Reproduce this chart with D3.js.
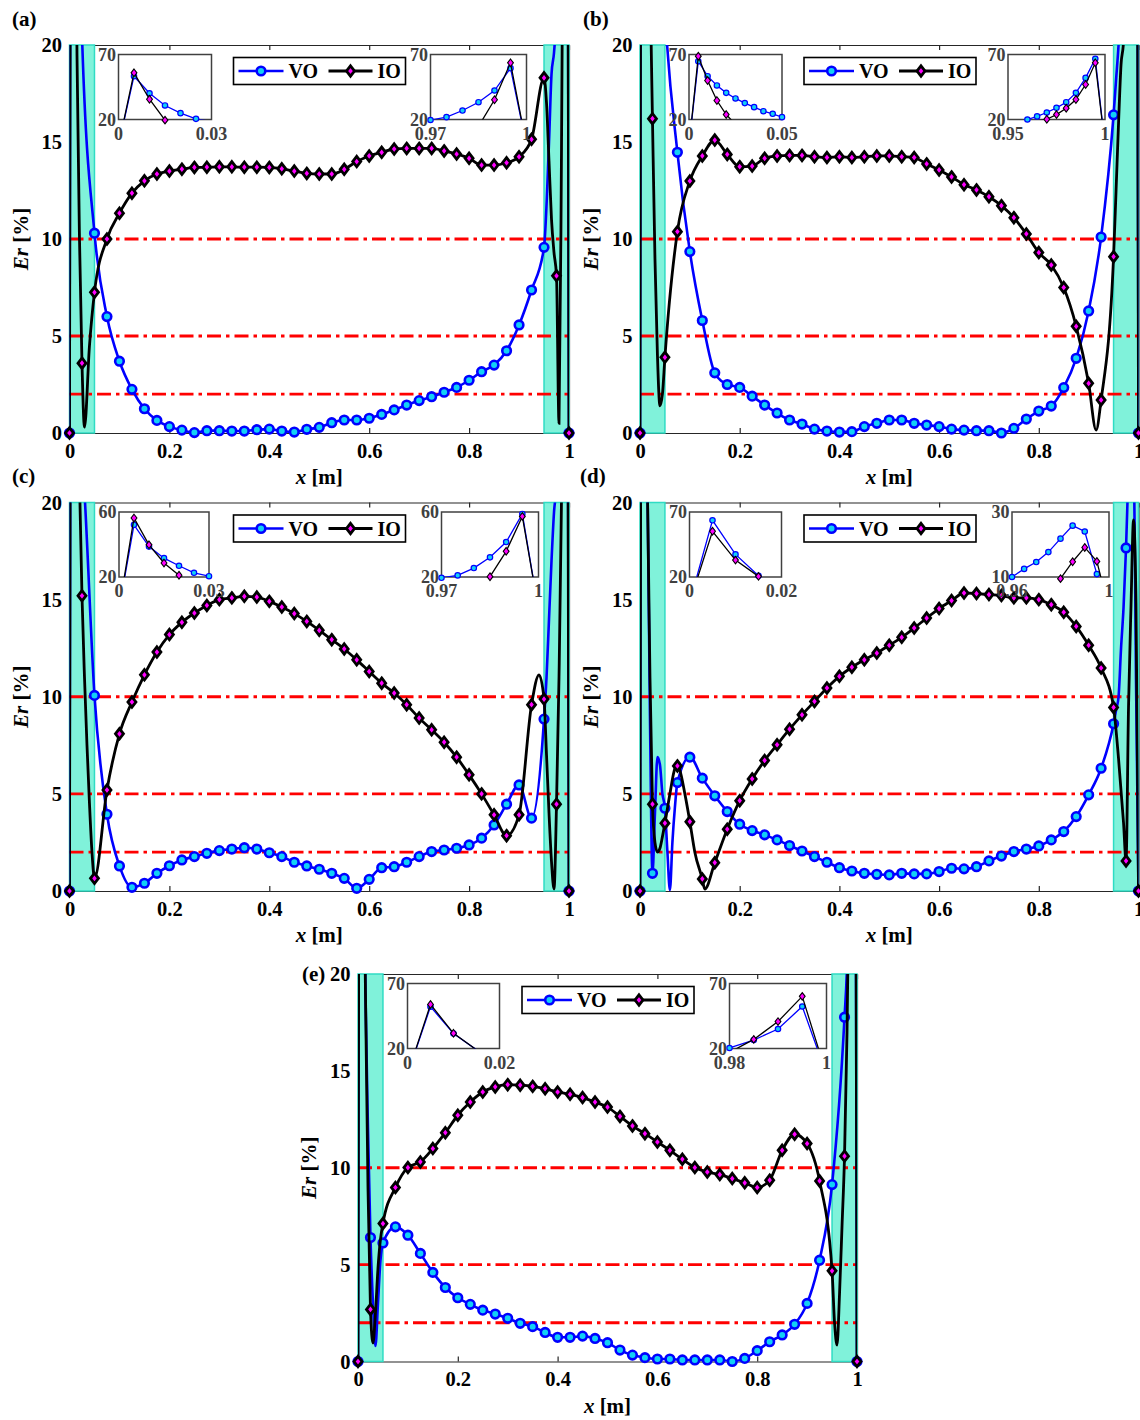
<!DOCTYPE html>
<html>
<head>
<meta charset="utf-8">
<script src="https://cdn.jsdelivr.net/npm/d3@7"></script>
<style>
  body { margin: 0; background: #fff; }
  text { font-family: "Liberation Serif", "DejaVu Serif", serif; font-weight: bold; }
</style>
</head>
<body>
<svg id="chart" width="1140" height="1420"></svg>
<script>
// x positions of the plotted markers [m]
const xGrid = [0, 0.025, 0.05, 0.075, 0.1, 0.125, 0.15, 0.175, 0.2, 0.225, 0.25, 0.275, 0.3, 0.325,
  0.35, 0.375, 0.4, 0.425, 0.45, 0.475, 0.5, 0.525, 0.55, 0.575, 0.6, 0.625, 0.65, 0.675, 0.7, 0.725,
  0.75, 0.775, 0.8, 0.825, 0.85, 0.875, 0.9, 0.925, 0.95, 0.975, 1];
const xTicks = [0, 0.2, 0.4, 0.6, 0.8, 1];
const yTicks = [0, 5, 10, 15, 20];
const limits = [2, 5, 10];          // red dash-dot lines, Er [%]
const shaded = [[0, 0.05], [0.95, 1]];

// (a)
const voA = [0, 20.5, 10.3, 6.0, 3.7, 2.25, 1.25, 0.65, 0.33, 0.15, 0.02, 0.12, 0.12, 0.1, 0.1, 0.17, 0.2,
  0.1, 0.05, 0.19, 0.29, 0.53, 0.67, 0.67, 0.76, 0.96, 1.19, 1.44, 1.67, 1.87, 2.1, 2.35, 2.72, 3.16,
  3.5, 4.24, 5.57, 7.37, 9.57, 21.8, 0];
const ioA = [0, 3.6, 7.25, 10.0, 11.33, 12.36, 13.0, 13.35, 13.5, 13.6, 13.69, 13.7, 13.72, 13.72, 13.7,
  13.7, 13.69, 13.62, 13.5, 13.38, 13.35, 13.35, 13.59, 13.99, 14.28, 14.47, 14.64, 14.67, 14.67,
  14.67, 14.54, 14.38, 14.16, 13.81, 13.81, 13.93, 14.24, 15.14, 18.31, 8.1, 0];
const voFineA = [[0.005, 53.3], [0.01, 40.2], [0.015, 30.8], [0.02, 24.9], [0.96, 15], [0.965, 18.5],
  [0.97, 19.6], [0.98, 26.9], [0.985, 33.3], [0.99, 42.3], [0.995, 59.5]];
const ioFineA = [[0.005, 55.9], [0.01, 35.6], [0.015, 19.5], [0.02, 10], [0.03, 0.3], [0.04, 4.5],
  [0.955, 17], [0.96, 14], [0.965, 11], [0.97, 9.3], [0.98, 0.5], [0.985, 14.7], [0.99, 35.2], [0.995, 63.6]];

// (b)
const voB = [0, 36.2, 21.8, 14.47, 9.35, 5.8, 3.1, 2.5, 2.35, 1.9, 1.44, 1.03, 0.67, 0.46, 0.2, 0.1, 0.05,
  0.07, 0.33, 0.5, 0.67, 0.67, 0.5, 0.41, 0.33, 0.2, 0.15, 0.12, 0.12, 0.0, 0.24, 0.72, 1.13, 1.39,
  2.34, 3.85, 6.29, 10.1, 16.4, 29, 0];
const ioB = [0, 16.2, 3.9, 10.38, 12.99, 14.28, 15.1, 14.36, 13.73, 13.76, 14.16, 14.28, 14.31, 14.31,
  14.24, 14.2, 14.24, 14.2, 14.24, 14.28, 14.28, 14.24, 14.2, 13.87, 13.56, 13.2, 12.8, 12.53, 12.18,
  11.72, 11.1, 10.26, 9.3, 8.66, 7.5, 5.5, 2.56, 1.7, 9.09, 23.8, 0];
const voFineB = [[0.005, 64.8], [0.01, 53.3], [0.015, 46.2], [0.02, 40.5], [0.03, 32.6], [0.035, 29.5],
  [0.04, 26.4], [0.045, 24.4], [0.955, 18.2], [0.96, 20], [0.965, 22.4], [0.97, 25.4], [0.98, 33.3],
  [0.985, 40.5], [0.99, 52], [0.995, 66.7]];
const ioFineB = [[0.005, 68.7], [0.01, 50], [0.015, 34.6], [0.02, 23.8], [0.03, 9], [0.035, 4],
  [0.04, 1.4], [0.045, 2], [0.915, 0.15], [0.955, 12.5], [0.96, 16], [0.965, 19], [0.97, 20.2],
  [0.98, 28.7], [0.985, 35.4], [0.99, 46.9], [0.995, 63.6]];

// (c)
const voC = [0, 22.6, 10.07, 3.95, 1.29, 0.19, 0.4, 0.91, 1.3, 1.6, 1.77, 1.94, 2.08, 2.16, 2.23, 2.16,
  1.97, 1.77, 1.48, 1.29, 1.12, 0.91, 0.65, 0.14, 0.6, 1.2, 1.25, 1.48, 1.77, 2.03, 2.11, 2.2, 2.37,
  2.72, 3.4, 4.47, 5.46, 3.75, 8.85, 21, 0];
const ioC = [0, 15.2, 0.65, 5.2, 8.09, 9.73, 11.13, 12.3, 13.2, 13.83, 14.31, 14.7, 15.0, 15.09, 15.17,
  15.13, 14.91, 14.62, 14.28, 13.88, 13.42, 12.94, 12.46, 11.9, 11.3, 10.7, 10.19, 9.59, 8.9, 8.3,
  7.66, 6.89, 5.98, 5.0, 3.92, 2.85, 3.92, 9.59, 9.88, 4.47, 0];
const voFineC = [[0.005, 52.1], [0.01, 38.7], [0.015, 31.6], [0.02, 26.9], [0.03, 20.5], [0.955, 11],
  [0.96, 14], [0.965, 17], [0.97, 19.5], [0.98, 25.5], [0.985, 32.1], [0.99, 41.5], [0.995, 58.8]];
const ioFineC = [[0.005, 56.3], [0.01, 39.8], [0.015, 28.6], [0.02, 21.1], [0.03, 11], [0.035, 7.5],
  [0.04, 4.5], [0.045, 2], [0.94, 11.13], [0.955, 7], [0.96, 4], [0.965, 1.5], [0.97, 0.1],
  [0.98, 11], [0.985, 20.2], [0.99, 35.8], [0.995, 57.3]];

// (d)
const voD = [0, 0.91, 4.26, 5.58, 6.89, 5.81, 4.9, 4.09, 3.44, 3.11, 2.89, 2.63, 2.34, 2.06, 1.77, 1.48,
  1.2, 1.03, 0.91, 0.86, 0.83, 0.91, 0.88, 0.88, 1.0, 1.17, 1.14, 1.25, 1.55, 1.8, 2.03, 2.16, 2.32,
  2.63, 3.06, 3.83, 4.95, 6.32, 8.61, 17.66, 0];
const ioD = [0, 4.47, 3.49, 6.44, 3.57, 0.62, 1.46, 3.18, 4.65, 5.77, 6.72, 7.53, 8.33, 9.07, 9.76,
  10.45, 11.05, 11.52, 11.9, 12.25, 12.65, 13.06, 13.54, 14.05, 14.54, 14.95, 15.34, 15.31, 15.26,
  15.21, 15.09, 15.09, 15.0, 14.74, 14.35, 13.62, 12.65, 11.48, 9.45, 1.55, 0];
const voFineD = [[0.005, 63.6], [0.01, 37.4], [0.015, 21], [0.02, 9], [0.03, 4.0], [0.035, 6.9],
  [0.04, 6.5], [0.045, 5.0], [0.055, 2.0], [0.06, 0.05], [0.065, 2.5], [0.07, 4.3], [0.955, 9.3],
  [0.96, 10], [0.965, 12.5], [0.97, 14.6], [0.98, 21.8], [0.985, 25.8], [0.99, 24], [0.995, 10.9]];
const ioFineD = [[0.005, 55.2], [0.01, 33], [0.015, 20.5], [0.02, 11], [0.03, 2.5], [0.035, 2.0],
  [0.04, 2.2], [0.045, 2.8], [0.06, 5.0], [0.07, 6.3], [0.08, 6.2], [0.09, 5], [0.11, 2], [0.13, 0.1],
  [0.96, 6.8], [0.97, 3.5], [0.98, 9.5], [0.985, 14.7], [0.99, 19.1], [0.995, 14.8]];

// (e)
const voE = [0, 6.4, 6.12, 6.95, 6.52, 5.58, 4.6, 3.82, 3.29, 2.95, 2.65, 2.45, 2.23, 1.97, 1.8, 1.5,
  1.25, 1.25, 1.31, 1.19, 0.97, 0.59, 0.33, 0.2, 0.13, 0.13, 0.08, 0.08, 0.08, 0.08, 0.0, 0.16, 0.56,
  1.02, 1.37, 1.92, 3.0, 5.23, 9.13, 17.77, 0];
const ioE = [0, 2.69, 7.12, 8.98, 10.01, 10.3, 10.99, 11.81, 12.71, 13.39, 13.91, 14.17, 14.29, 14.26,
  14.2, 14.08, 13.91, 13.79, 13.62, 13.39, 13.13, 12.65, 12.16, 11.76, 11.33, 10.9, 10.44, 10.01,
  9.78, 9.65, 9.44, 9.22, 8.98, 9.36, 10.9, 11.73, 11.25, 9.32, 4.68, 10.6, 0];
const voFineE = [[0.005, 52.2], [0.01, 31.5], [0.015, 19], [0.02, 12], [0.03, 3], [0.035, 0.8],
  [0.04, 3], [0.045, 5.2], [0.98, 20.4], [0.985, 26.5], [0.99, 35], [0.995, 52.3]];
const ioFineE = [[0.005, 53.9], [0.01, 31.7], [0.015, 19], [0.02, 9], [0.03, 0.95], [0.035, 2.5],
  [0.04, 4.8], [0.045, 6.3], [0.955, 2], [0.96, 0.85], [0.965, 3.5], [0.97, 7], [0.98, 17],
  [0.985, 27], [0.99, 40.7], [0.995, 60.1]];

// inset ranges: [xmin, xmax, ymin, ymax]
const insetA = [[0, 0.03, 20, 70], [0.97, 1, 20, 70]];
const insetB = [[0, 0.05, 20, 70], [0.95, 1, 20, 70]];
const insetC = [[0, 0.03, 20, 60], [0.97, 1, 20, 60]];
const insetD = [[0, 0.02, 20, 70], [0.96, 1, 10, 30]];
const insetE = [[0, 0.02, 20, 70], [0.98, 1, 20, 70]];

const panels = [
  {label: "(a)", vo: voA, io: ioA, voFine: voFineA, ioFine: ioFineA, insets: insetA,
   box: [69.5, 569, 45, 433], insetPos: [[49, 93], [361, 96]], labelPos: [12, 26]},
  {label: "(b)", vo: voB, io: ioB, voFine: voFineB, ioFine: ioFineB, insets: insetB,
   box: [640, 1138.5, 45, 433], insetPos: [[49, 93], [368, 97]], labelPos: [583, 26]},
  {label: "(c)", vo: voC, io: ioC, voFine: voFineC, ioFine: ioFineC, insets: insetC,
   box: [69.5, 569, 502.5, 891], insetPos: [[49.5, 90], [372, 97]], labelPos: [12, 483]},
  {label: "(d)", vo: voD, io: ioD, voFine: voFineD, ioFine: ioFineD, insets: insetD,
   box: [640, 1138.5, 502.5, 891], insetPos: [[49.5, 92], [372, 97]], labelPos: [580, 483]},
  {label: "(e)", vo: voE, io: ioE, voFine: voFineE, ioFine: ioFineE, insets: insetE,
   box: [358, 857, 974, 1361.5], insetPos: [[49.5, 92], [371.5, 97]], labelPos: [302, 981]}
];

const svg = d3.select("#chart");
const blue = "#0000ff", cyan = "#12d0f5", magenta = "#ff00ff";
const axisColor = "#262626";
let clipId = 0;

function diamond(h, w) { return `M0,${-h}L${w},0L0,${h}L${-w},0Z`; }

function mergePts(xs, ys, fine) {
  const pts = xs.map((x, i) => [x, ys[i]]).concat(fine);
  return pts.sort((a, b) => a[0] - b[0]);
}

function drawPanel(p) {
  const [left, right, top, bottom] = p.box;
  const g = svg.append("g");
  const x = d3.scaleLinear().domain([0, 1]).range([left, right]);
  const y = d3.scaleLinear().domain([0, 20]).range([bottom, top]);

  // axes box
  const styleAxis = sel => {
    sel.attr("font-family", null).attr("font-size", 20.5).attr("font-weight", "bold");
    sel.select(".domain").attr("stroke", axisColor).attr("stroke-width", 1.2);
    sel.selectAll(".tick line").attr("stroke", axisColor).attr("stroke-width", 1.2);
    sel.selectAll(".tick text").attr("fill", "#000");
  };
  g.append("g").attr("transform", `translate(0,${bottom})`)
    .call(d3.axisBottom(x).tickValues(xTicks).tickSize(-5).tickSizeOuter(0).tickPadding(10).tickFormat(d3.format("~g")))
    .call(styleAxis);
  g.append("g").attr("transform", `translate(0,${top})`)
    .call(d3.axisTop(x).tickValues(xTicks).tickSize(-5).tickSizeOuter(0).tickFormat(""))
    .call(styleAxis);
  g.append("g").attr("transform", `translate(${left},0)`)
    .call(d3.axisLeft(y).tickValues(yTicks).tickSize(-5).tickSizeOuter(0).tickPadding(7.5))
    .call(styleAxis);
  g.append("g").attr("transform", `translate(${right},0)`)
    .call(d3.axisRight(y).tickValues(yTicks).tickSize(-5).tickSizeOuter(0).tickFormat(""))
    .call(styleAxis);

  // shaded boundary zones
  g.selectAll(".zone").data(shaded).enter().append("rect")
    .attr("x", d => x(d[0])).attr("y", top)
    .attr("width", d => x(d[1]) - x(d[0])).attr("height", bottom - top)
    .attr("fill", "#80f2da").attr("stroke", "#2fdcc4").attr("stroke-width", 1.5);

  // threshold lines
  g.selectAll(".lim").data(limits).enter().append("line")
    .attr("x1", x(0)).attr("x2", x(1)).attr("y1", d => y(d)).attr("y2", d => y(d))
    .attr("stroke", "#ff0000").attr("stroke-width", 2.8).attr("stroke-dasharray", "14,5,3.5,5");

  const cid = "clip" + (clipId++);
  g.append("clipPath").attr("id", cid).append("rect")
    .attr("x", left).attr("y", top).attr("width", right - left).attr("height", bottom - top);

  const line = d3.line().x(d => x(d[0])).y(d => y(d[1])).curve(d3.curveMonotoneX);

  // VO
  g.append("path").datum(mergePts(xGrid, p.vo, p.voFine)).attr("clip-path", `url(#${cid})`)
    .attr("d", line).attr("fill", "none").attr("stroke", blue).attr("stroke-width", 2.6);
  g.selectAll(".vo").data(xGrid.map((xv, i) => [xv, p.vo[i]]).filter(d => d[1] <= 20))
    .enter().append("circle")
    .attr("cx", d => x(d[0])).attr("cy", d => y(d[1])).attr("r", 4.3)
    .attr("fill", cyan).attr("stroke", blue).attr("stroke-width", 2.6);

  // IO
  g.append("path").datum(mergePts(xGrid, p.io, p.ioFine)).attr("clip-path", `url(#${cid})`)
    .attr("d", line).attr("fill", "none").attr("stroke", "#000").attr("stroke-width", 2.8);
  g.selectAll(".io").data(xGrid.map((xv, i) => [xv, p.io[i]]).filter(d => d[1] <= 20))
    .enter().append("path")
    .attr("transform", d => `translate(${x(d[0])},${y(d[1])})`)
    .attr("d", diamond(5.2, 4))
    .attr("fill", magenta).attr("stroke", "#000").attr("stroke-width", 2.8);

  // legend
  const lx = left + 164, ly = top + 12.5;
  const lg = g.append("g").attr("transform", `translate(${lx},${ly})`);
  lg.append("rect").attr("width", 172).attr("height", 27).attr("fill", "#fff")
    .attr("stroke", "#000").attr("stroke-width", 1.6);
  lg.append("line").attr("x1", 5).attr("x2", 50).attr("y1", 13.5).attr("y2", 13.5)
    .attr("stroke", blue).attr("stroke-width", 2.6);
  lg.append("circle").attr("cx", 27.5).attr("cy", 13.5).attr("r", 4.3)
    .attr("fill", cyan).attr("stroke", blue).attr("stroke-width", 2.6);
  lg.append("text").attr("x", 55).attr("y", 20.5).attr("font-size", 20).text("VO");
  lg.append("line").attr("x1", 95).attr("x2", 139).attr("y1", 13.5).attr("y2", 13.5)
    .attr("stroke", "#000").attr("stroke-width", 2.8);
  lg.append("path").attr("transform", "translate(117,13.5)").attr("d", diamond(5.2, 4))
    .attr("fill", magenta).attr("stroke", "#000").attr("stroke-width", 2.8);
  lg.append("text").attr("x", 144).attr("y", 20.5).attr("font-size", 20).text("IO");

  // insets
  p.insets.forEach((dom, k) => {
    const [ox, w] = p.insetPos[k];
    const bx = left + ox, by = top + 9.5, h = 65;
    const ix = d3.scaleLinear().domain([dom[0], dom[1]]).range([bx, bx + w]);
    const iy = d3.scaleLinear().domain([dom[2], dom[3]]).range([by + h, by]);
    const ig = g.append("g");
    ig.append("rect").attr("x", bx).attr("y", by).attr("width", w).attr("height", h)
      .attr("fill", "#fff").attr("stroke", "#404040").attr("stroke-width", 1.5);
    const icid = "clip" + (clipId++);
    ig.append("clipPath").attr("id", icid).append("rect")
      .attr("x", bx).attr("y", by).attr("width", w).attr("height", h);
    const iline = d3.line().x(d => ix(d[0])).y(d => iy(d[1]));
    const inBox = d => d[0] >= dom[0] - 1e-9 && d[0] <= dom[1] + 1e-9 &&
      d[1] >= dom[2] - 0.6 && d[1] <= dom[3] + 1;
    const voPts = mergePts(xGrid, p.vo, p.voFine);
    const ioPts = mergePts(xGrid, p.io, p.ioFine);
    ig.append("path").datum(voPts).attr("clip-path", `url(#${icid})`).attr("d", iline)
      .attr("fill", "none").attr("stroke", blue).attr("stroke-width", 1.3);
    ig.selectAll(".ivo").data(voPts.filter(inBox)).enter().append("circle")
      .attr("cx", d => ix(d[0])).attr("cy", d => iy(d[1])).attr("r", 2.7)
      .attr("fill", cyan).attr("stroke", blue).attr("stroke-width", 1.2);
    ig.append("path").datum(ioPts).attr("clip-path", `url(#${icid})`).attr("d", iline)
      .attr("fill", "none").attr("stroke", "#000").attr("stroke-width", 1.3);
    ig.selectAll(".iio").data(ioPts.filter(inBox)).enter().append("path")
      .attr("transform", d => `translate(${ix(d[0])},${iy(d[1])})`)
      .attr("d", diamond(3.8, 2.9))
      .attr("fill", magenta).attr("stroke", "#000").attr("stroke-width", 1.1);
    // end labels
    const lbl = ig.append("g").attr("font-size", 18).attr("fill", "#404040");
    lbl.append("text").attr("x", bx - 2.5).attr("y", by).attr("dy", "0.35em")
      .attr("text-anchor", "end").text(String(dom[3]));
    lbl.append("text").attr("x", bx - 2.5).attr("y", by + h).attr("dy", "0.35em")
      .attr("text-anchor", "end").text(String(dom[2]));
    lbl.append("text").attr("x", bx).attr("y", by + h + 14).attr("dy", "0.35em")
      .attr("text-anchor", "middle").text(String(dom[0]));
    lbl.append("text").attr("x", bx + w).attr("y", by + h + 14).attr("dy", "0.35em")
      .attr("text-anchor", "middle").text(String(dom[1]));
  });

  // axis titles
  const xl = g.append("text").attr("x", (left + right) / 2).attr("y", bottom + 51)
    .attr("text-anchor", "middle").attr("font-size", 21);
  xl.append("tspan").attr("font-style", "italic").text("x");
  xl.append("tspan").text(" [m]");
  const yl = g.append("text").attr("transform", `translate(${left - 42},${(top + bottom) / 2}) rotate(-90)`)
    .attr("text-anchor", "middle").attr("font-size", 21);
  yl.append("tspan").attr("font-style", "italic").text("Er");
  yl.append("tspan").text(" [%]");

  g.append("text").attr("x", p.labelPos[0]).attr("y", p.labelPos[1])
    .attr("font-size", 21).text(p.label);
}

panels.forEach(drawPanel);
</script>
</body>
</html>
